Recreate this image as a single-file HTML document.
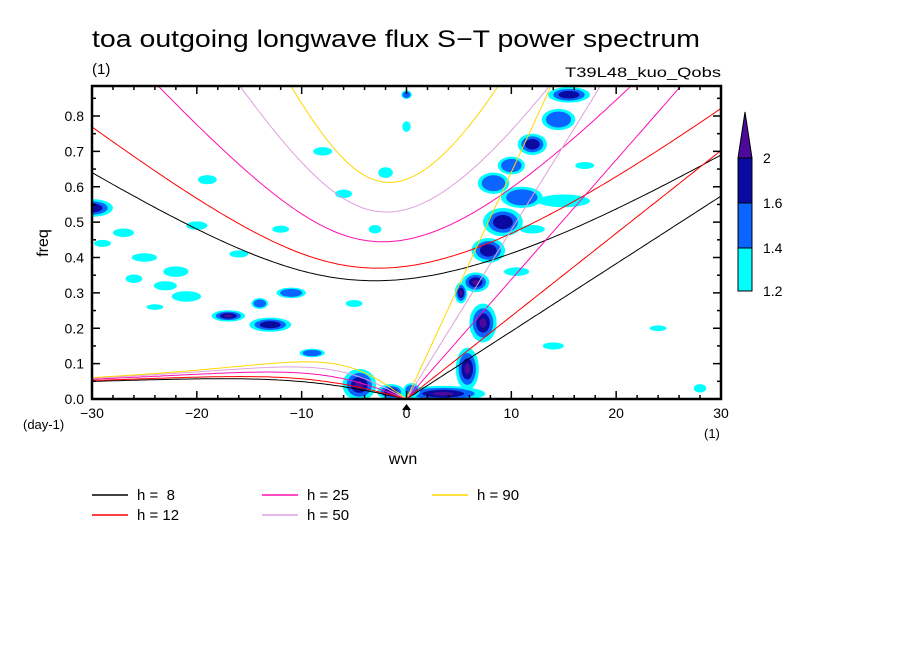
<!DOCTYPE html>
<html><head><meta charset="utf-8"><style>
body{margin:0;background:#fff;}
svg{display:block;font-family:"Liberation Sans",sans-serif;}
</style></head><body>
<svg id="c" width="904" height="654" viewBox="0 0 904 654" xmlns="http://www.w3.org/2000/svg">
<text x="92" y="47" font-size="24" textLength="608" lengthAdjust="spacingAndGlyphs">toa outgoing longwave flux S−T power spectrum</text>
<text x="92" y="74" font-size="15">(1)</text>
<text x="565" y="77" font-size="14" textLength="156" lengthAdjust="spacingAndGlyphs">T39L48_kuo_Qobs</text>
<defs><clipPath id="pc"><rect x="92" y="86" width="629" height="313"/></clipPath></defs>
<g id="blobs" clip-path="url(#pc)"></g>
<g id="curves" clip-path="url(#pc)"></g>
<g id="axes"></g>
<g id="legend"></g>
<g id="cbar"></g>
</svg>
<script>
const hValues=[8,12,25,50,90];
const hColors=['#000000','#ff0000','#ff0fb0','#dda0dd','#ffd700'];
const xTicks=[-30,-20,-10,0,10,20,30];
const yTicks=[0,0.1,0.2,0.3,0.4,0.5,0.6,0.7,0.8];
const yTickLabels=['0.0','0.1','0.2','0.3','0.4','0.5','0.6','0.7','0.8'];
const levelColors=['#00ffff','#0a64ff','#0a0aa0','#4b0a9b'];
const cbarLabels=['1.2','1.4','1.6','2'];
// blobs: wavenumber, frequency, half-width (wvn), half-height (freq), level
const blobWvn=[3.5,5.8,7.3,5.2,6.6,7.8,9.2,11,10,12,14.5,15.5,15,8.3,-4.5,-1.5,0.5,-30,-17,-13,-14,-22,-25,-27,-11,-2,-20,-19,-23,-21,-9,-26,-29,-16,-6,-8,-12,28,24,0,0,-3,12,10.5,17,-24,-5,14];
const blobFreq=[0.015,0.085,0.215,0.3,0.33,0.42,0.5,0.57,0.66,0.72,0.79,0.86,0.56,0.61,0.04,0.02,0.025,0.54,0.235,0.21,0.27,0.36,0.4,0.47,0.3,0.64,0.49,0.62,0.32,0.29,0.13,0.34,0.44,0.41,0.58,0.7,0.48,0.03,0.2,0.86,0.77,0.48,0.48,0.36,0.66,0.26,0.27,0.15];
const blobRw=[4,1.1,1.3,0.6,1.3,1.6,1.9,2,1.3,1.4,1.6,2,2.5,1.5,1.6,1.3,0.8,2,1.6,2,0.8,1.2,1.2,1.0,1.4,0.7,1.0,0.9,1.1,1.4,1.2,0.8,0.8,0.9,0.8,0.9,0.8,0.6,0.8,0.5,0.4,0.6,1.2,1.2,0.9,0.8,0.8,1];
const blobRf=[0.022,0.06,0.055,0.03,0.028,0.035,0.04,0.03,0.025,0.03,0.03,0.022,0.018,0.03,0.045,0.022,0.02,0.025,0.016,0.02,0.015,0.015,0.012,0.012,0.015,0.015,0.012,0.013,0.013,0.015,0.012,0.012,0.01,0.01,0.012,0.012,0.01,0.012,0.008,0.012,0.015,0.012,0.012,0.012,0.01,0.008,0.01,0.01];
const blobLevel=[4,4,4,4,4,3,3,2,2,3,2,3,1,2,4,4,2,3,4,3,2,1,1,1,2,1,1,1,1,1,2,1,1,1,1,1,1,1,1,2,1,1,1,1,1,1,1,1];
const X0=92,X1=721,Y0=399,Y1=86;
const xs=w=>X0+(w+30)/60*(X1-X0);
const ys=f=>Y0-f/0.8*(Y0-116);
const NS='http://www.w3.org/2000/svg';
function mk(tag,attrs,parent){const e=document.createElementNS(NS,tag);for(const k in attrs)e.setAttribute(k,attrs[k]);parent.appendChild(e);return e;}
const gb=document.getElementById('blobs');
blobWvn.forEach((w,i)=>{
  for(let l=0;l<blobLevel[i];l++){
    const s=1-l*0.25;
    const e=mk('ellipse',{cx:xs(w),cy:ys(blobFreq[i]),rx:blobRw[i]*s*(X1-X0)/60,ry:blobRf[i]*s*(Y0-116)/0.8,fill:levelColors[l]},gb);
    
    
  }
});
const a=6.371e6,beta=2*7.292e-5/a,g=9.81,cpd=86400/(2*Math.PI);
function root(k,c,w0){let w=w0;for(let i=0;i<60;i++){const f=w*w*w-(c*c*k*k+3*beta*c)*w-beta*k*c*c;const d=3*w*w-(c*c*k*k+3*beta*c);w-=f/d;}return w;}
const gc=document.getElementById('curves');
hValues.forEach((h,hi)=>{
  const c=Math.sqrt(g*h);let ig='',ro='',kv='';
  for(let s=-30;s<=30.001;s+=0.25){
    const k=s/a;
    const wig=root(k,c,Math.sqrt(c*c*k*k+3*beta*c)+1e-6);
    ig+=(ig?'L':'M')+xs(s).toFixed(1)+','+ys(wig*cpd).toFixed(1);
    if(s<=0){const wr=root(k,c,-beta*k/(k*k+3*beta/c));ro+=(ro?'L':'M')+xs(s).toFixed(1)+','+ys(wr*cpd).toFixed(1);}
    if(s>=0){kv+=(kv?'L':'M')+xs(s).toFixed(1)+','+ys(c*k*cpd).toFixed(1);}
  }
  [['ig',ig],['rossby',ro],['kelvin',kv]].forEach(([n,d])=>{
    const p=mk('path',{d:d,fill:'none',stroke:hColors[hi],'stroke-width':1},gc);
    
    
  });
});
const ga=document.getElementById('axes');
const fr=mk('rect',{x:X0,y:Y1,width:X1-X0,height:Y0-Y1,fill:'none',stroke:'#000','stroke-width':2.5},ga);


for(let w=-30;w<=30;w+=2){const L=(w%10===0)?8:4;mk('line',{x1:xs(w),x2:xs(w),y1:Y0,y2:Y0-L,stroke:'#000','stroke-width':1.5},ga);mk('line',{x1:xs(w),x2:xs(w),y1:Y1,y2:Y1+L,stroke:'#000','stroke-width':1.5},ga);}
for(let i=0;i<=17;i++){const f=i*0.05;const L=(i%2===0)?8:4;mk('line',{x1:X0,x2:X0+L,y1:ys(f),y2:ys(f),stroke:'#000','stroke-width':1.5},ga);mk('line',{x1:X1,x2:X1-L,y1:ys(f),y2:ys(f),stroke:'#000','stroke-width':1.5},ga);}
xTicks.forEach(w=>{const t=mk('text',{x:xs(w),y:418,'font-size':14,'text-anchor':'middle'},ga);t.textContent=(w<0?'−':'')+Math.abs(w);});
yTicks.forEach((f,i)=>{const t=mk('text',{x:84,y:ys(f)+5,'font-size':14,'text-anchor':'end'},ga);t.textContent=yTickLabels[i];});
mk('path',{d:'M402,410L406.5,404L411,410Z',fill:'#000'},ga);
let t=mk('text',{x:403,y:464,'font-size':16,'text-anchor':'middle'},ga);t.textContent='wvn';
t=mk('text',{x:48,y:243,'font-size':16,'text-anchor':'middle',transform:'rotate(-90 48 243)'},ga);t.textContent='freq';
t=mk('text',{x:23,y:429,'font-size':13},ga);t.textContent='(day-1)';
t=mk('text',{x:704,y:438,'font-size':13},ga);t.textContent='(1)';
const gl=document.getElementById('legend');
const lpos=[[92,495],[92,515],[262,495],[262,515],[432,495]];
hValues.forEach((h,hi)=>{const [x,y]=lpos[hi];mk('line',{x1:x,x2:x+36,y1:y,y2:y,stroke:hColors[hi],'stroke-width':1.5},gl);const tt=mk('text',{x:x+45,y:y+5,'font-size':15},gl);tt.setAttribute('xml:space','preserve');tt.style.whiteSpace='pre';tt.textContent='h = '+(h<10?' ':'')+h;});
const gcb=document.getElementById('cbar');
const cbY=[291,248,203,158];
for(let i=0;i<3;i++){mk('rect',{x:738,y:cbY[i+1],width:14,height:cbY[i]-cbY[i+1],fill:levelColors[i],stroke:'#000','stroke-width':1},gcb);}
mk('path',{d:'M738,158L745,112L752,158Z',fill:levelColors[3],stroke:'#000','stroke-width':1},gcb);
cbarLabels.forEach((l,i)=>{const tt=mk('text',{x:763,y:cbY[i]+5,'font-size':14},gcb);tt.textContent=l;});
</script>
</body></html>
